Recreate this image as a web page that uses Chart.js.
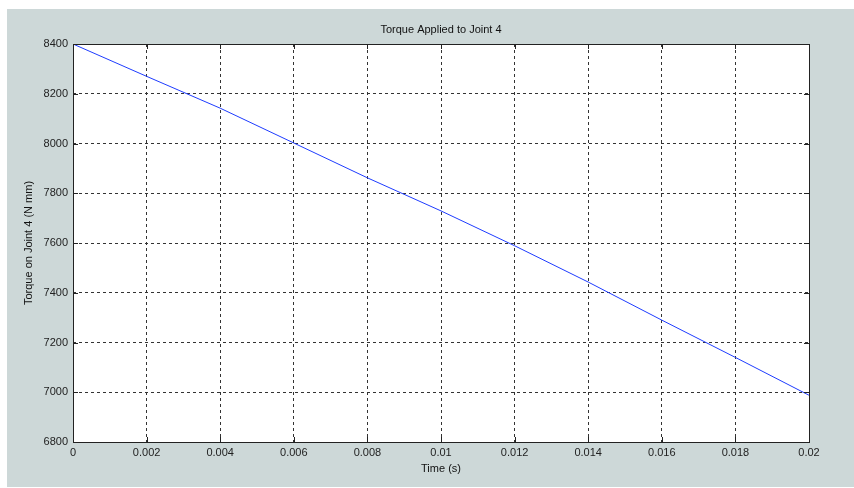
<!DOCTYPE html>
<html>
<head>
<meta charset="utf-8">
<script src="https://cdn.jsdelivr.net/npm/chart.js@4.4.1/dist/chart.umd.min.js"></script>
<style>
  html, body { margin: 0; padding: 0; background: #fff; }
  canvas { display: block; }
</style>
</head>
<body>
<canvas id="chart" width="854" height="488"></canvas>
<script>
// values
const timeValues = [0, 0.002, 0.004, 0.006, 0.008, 0.010, 0.012, 0.014, 0.016, 0.018, 0.020];
const torqueValues = [8400, 8270, 8142, 8002, 7862, 7729, 7589, 7443, 7290, 7140, 6988];

const xTickLabels = ["0", "0.002", "0.004", "0.006", "0.008", "0.01", "0.012", "0.014", "0.016", "0.018", "0.02"];
const yTickLabels = ["6800", "7000", "7200", "7400", "7600", "7800", "8000", "8200", "8400"];

const titleText = "Torque Applied to Joint 4";
const xTitle = "Time (s)";
const yTitle = "Torque on Joint 4 (N mm)";

const fontFamily = "'Liberation Sans', Arial, sans-serif";

// gray figure background + white axes background
const backdrop = {
  id: "backdrop",
  beforeDraw(chart) {
    const ctx = chart.ctx, a = chart.chartArea;
    ctx.save();
    ctx.fillStyle = "#cdd8d8";
    ctx.fillRect(7, 9, chart.width - 7, chart.height - 10);
    ctx.fillStyle = "#ffffff";
    ctx.fillRect(a.left, a.top, a.right - a.left, a.bottom - a.top);
    ctx.restore();
  }
};

// matlab style box with inward tick marks
const frame = {
  id: "frame",
  afterDraw(chart) {
    const ctx = chart.ctx, a = chart.chartArea;
    const xs = chart.scales.x, ys = chart.scales.y;
    const len = 5;
    ctx.save();
    ctx.strokeStyle = "#222";
    ctx.lineWidth = 1;
    ctx.beginPath();
    xs.ticks.forEach(t => {
      const px = Math.round(xs.getPixelForValue(t.value)) + 0.5;
      ctx.moveTo(px, a.bottom); ctx.lineTo(px, a.bottom - len);
      ctx.moveTo(px, a.top); ctx.lineTo(px, a.top + len);
    });
    ys.ticks.forEach(t => {
      const py = Math.round(ys.getPixelForValue(t.value)) + 0.5;
      ctx.moveTo(a.left, py); ctx.lineTo(a.left + len, py);
      ctx.moveTo(a.right, py); ctx.lineTo(a.right - len, py);
    });
    ctx.stroke();
    ctx.strokeRect(Math.round(a.left) + 0.5, Math.round(a.top) + 0.5,
      Math.round(a.right - a.left), Math.round(a.bottom - a.top));
    ctx.restore();
  }
};

const points = timeValues.map((t, i) => ({ x: t, y: torqueValues[i] }));

new Chart(document.getElementById("chart"), {
  type: "scatter",
  data: {
    datasets: [{
      data: points,
      showLine: true,
      borderColor: "#1e3cff",
      borderWidth: 1,
      pointRadius: 0,
      fill: false,
      tension: 0
    }]
  },
  options: {
    responsive: false,
    animation: false,
    layout: { padding: { left: 22, right: 45, top: 0, bottom: 12 } },
    plugins: {
      legend: { display: false },
      tooltip: { enabled: false },
      title: {
        display: true,
        text: titleText,
        fullSize: false,
        color: "#111",
        font: { family: fontFamily, size: 11, weight: "normal" },
        padding: { top: 23, bottom: 7.8 }
      }
    },
    scales: {
      x: {
        type: "linear",
        min: 0,
        max: 0.02,
        afterFit(scale) { scale.height = 34; },
        ticks: {
          stepSize: 0.002,
          padding: 4,
          color: "#222",
          font: { family: fontFamily, size: 11 },
          maxRotation: 0,
          autoSkip: false,
          callback: (v, i) => xTickLabels[i]
        },
        grid: { color: "#333", lineWidth: 1, drawTicks: false },
        border: { display: false, dash: [3, 3] },
        title: {
          display: true,
          text: xTitle,
          color: "#111",
          font: { family: fontFamily, size: 11 },
          padding: 0
        }
      },
      y: {
        type: "linear",
        min: 6800,
        max: 8400,
        afterFit(scale) { scale.width = 51; },
        ticks: {
          stepSize: 200,
          padding: 5,
          color: "#222",
          font: { family: fontFamily, size: 11 },
          autoSkip: false,
          callback: (v, i) => yTickLabels[i]
        },
        grid: { color: "#333", lineWidth: 1, drawTicks: false },
        border: { display: false, dash: [3, 3] },
        title: {
          display: true,
          text: yTitle,
          color: "#111",
          font: { family: fontFamily, size: 11 },
          padding: 0
        }
      }
    }
  },
  plugins: [backdrop, frame]
});
</script>
</body>
</html>
